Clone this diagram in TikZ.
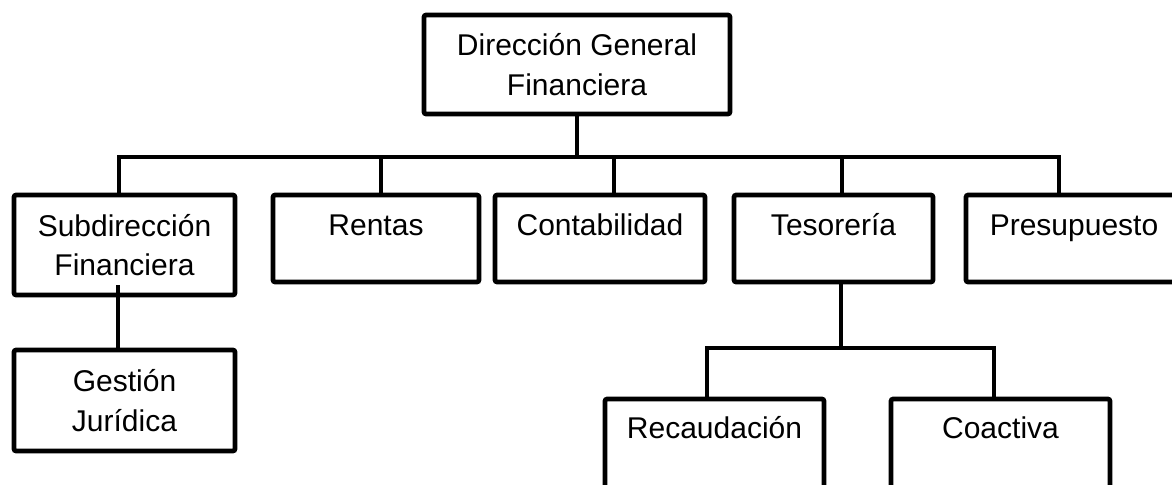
\documentclass[tikz,border=0pt]{standalone}
\usepackage{fontspec}
\setmainfont{Liberation Sans}

\tikzset{
	unit/.style={rectangle, draw, line width=2.3pt, rounded corners=1pt, inner sep=0pt, align=center, font=\fontsize{15}{19.75}\selectfont},
	oneline/.style={text height=20pt, text depth=23.5pt},
	lowline/.style={text height=19.5pt, text depth=30.5pt},
	wire/.style={line width=2.3pt}
}

\begin{document}
\begin{tikzpicture}[x=0.5pt, y=-0.5pt]
	\useasboundingbox (0,0) rectangle (1172,484);
	\clip (0,0) rectangle (1172,484);

	\node[unit, minimum width=153pt, minimum height=49.5pt](dirGen) at (577,64.5){Dirección General\\Financiera};

	\node[unit, minimum width=110.5pt, minimum height=50pt](subDir) at (124.5,245){Subdirección\\Financiera};
	\node[unit, oneline, minimum width=103pt](rentas) at (376,238.5){Rentas};
	\node[unit, oneline, minimum width=105pt](contab) at (600,238.5){Contabilidad};
	\node[unit, oneline, minimum width=99.5pt](tesor) at (833.5,238.5){Tesorería};
	\node[unit, oneline, minimum width=108pt](presup) at (1074,238.5){Presupuesto};

	\node[unit, minimum width=110.5pt, minimum height=50.5pt](gestion) at (124.5,400.5){Gestión\\Jurídica};
	\node[unit, lowline, minimum width=109.5pt](recaud) at (714.5,449){Recaudación};
	\node[unit, lowline, minimum width=109.5pt](coact) at (1000.5,449){Coactiva};

	% main bus
	\coordinate(busL) at (119,157);
	\coordinate(busR) at (1059,157);
	\draw[wire](dirGen.south) -- (dirGen.south |- busL);
	\draw[wire](busL |- subDir.north) -- (busL) -- (busR) -- (busR |- presup.north);
	\foreach \x/\n in {381/rentas, 614/contab, 842/tesor}{
		\coordinate(top-\n) at (\x,157);
		\draw[wire](top-\n) -- (top-\n |- \n.north);
	}

	% subdireccion
	\coordinate(subFoot) at (118,285);
	\draw[wire](subFoot) -- (subFoot |- gestion.north);

	% tesoreria
	\coordinate(tesDrop) at (841,348);
	\coordinate(tesL) at (707,348);
	\coordinate(tesR) at (994,348);
	\draw[wire](tesDrop |- tesor.south) -- (tesDrop);
	\draw[wire](tesL |- recaud.north) -- (tesL) -- (tesR) -- (tesR |- coact.north);
\end{tikzpicture}
\end{document}
